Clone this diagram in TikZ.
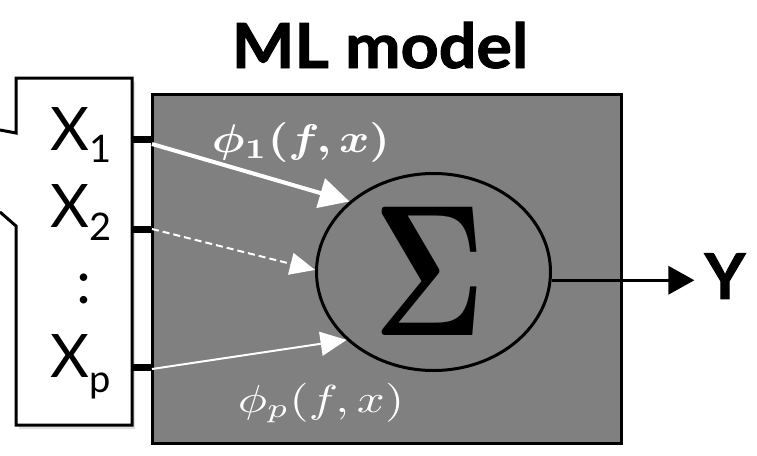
\documentclass[tikz,border=0pt]{standalone}
\usepackage{fontspec}
\usepackage{bm}
\setmainfont{Lato}
\usetikzlibrary{arrows.meta,shapes.geometric}
\begin{document}
\begin{tikzpicture}[x=1pt,y=-1pt,
  modelbox/.style={draw=black,line width=3pt,fill=black!50!white,minimum width=469pt,minimum height=349pt,inner sep=0pt},
  sumnode/.style={ellipse,draw=black,line width=3pt,minimum width=234pt,minimum height=197pt,inner sep=0pt},
  callout/.style={draw=black,line width=3pt,fill=white,line join=miter},
  port/.style={line width=7pt,black},
  wthick/.style={white,line width=4pt,-{Triangle[length=30pt,width=30pt]}},
  wdash/.style={white,line width=2pt,dash pattern=on 7pt off 4pt,-{Triangle[length=25pt,width=22pt]}},
  wthin/.style={white,line width=2pt,-{Triangle[length=26pt,width=24pt]}},
  outarrow/.style={black,line width=3.5pt,-{Triangle[length=26pt,width=28pt]}},
  xlabel/.style={anchor=base west,inner sep=0pt,font=\fontsize{60}{60}\selectfont},
  titlestyle/.style={anchor=base,inner sep=0pt,xscale=1.07,font=\fontsize{62}{62}\selectfont\bfseries\addfontfeatures{FakeBold=1.5}},
  mathlabel/.style={text=white,inner sep=0pt},
]
\useasboundingbox (0,0) rectangle (757,455);
% title
\node[titlestyle] (ttl) at (380,68) {ML model};
% callout shadow and shape
\fill[black,opacity=0.12] (3,134) -- (19,137) -- (19,82) -- (135,82) -- (135,429) -- (19,429) -- (19,230) -- (3,216);
\draw[callout] (0,130) -- (16,133) -- (16,78) -- (132,78) -- (132,425) -- (16,425) -- (16,226) -- (0,212);
% model box
\node[modelbox] (box) at (387,269) {};
% inputs
\node[xlabel] (x1) at (50,150) {X\raisebox{-12pt}{\fontsize{38}{38}\selectfont 1}};
\node[xlabel] (x2) at (50,227) {X\raisebox{-13pt}{\fontsize{38}{38}\selectfont 2}};
\node[anchor=base,inner sep=0pt,font=\fontsize{60}{60}\selectfont] (dots) at (84,303) {:};
\node[xlabel] (xp) at (50,377) {X\raisebox{-15pt}{\fontsize{38}{38}\selectfont p}};
% ports
\coordinate (q1) at (133,139);
\coordinate (q2) at (133,229);
\coordinate (qp) at (133,367);
\draw[port] (q1) -- (q1 -| box.west);
\draw[port] (q2) -- (q2 -| box.west);
\draw[port] (qp) -- (qp -| box.west);
% sum
\node[sumnode] (sum) at (433.5,272) {};
\node[xscale=13.5,yscale=18.7,inner sep=0pt] (sigma) at (430,271) {$\bm{\Sigma}$};
% arrows in
\coordinate (a1) at (152,144);
\coordinate (a2) at (152,229);
\coordinate (ap) at (152,369);
\draw[wthick] (a1) -- (sum.140);
\draw[wdash] (a2) -- (sum.179);
\draw[wthin] (ap) -- (sum.218);
% labels
\node[mathlabel,xscale=4.6,yscale=4] (phione) at (301,142) {$\bm{\phi}_{\bm{1}}\bm{(f,x)}$};
\node[mathlabel,xscale=4.9,yscale=3.9] (phip) at (321,403) {$\phi_p(f,x)$};
% output
\node[anchor=center,inner sep=0pt,font=\fontsize{63}{63}\selectfont\bfseries\addfontfeatures{FakeBold=1.5}] (yout) at (725,276) {Y};
\draw[outarrow,shorten >=10pt] (sum.-4) -- (sum.-4 -| yout.west);
\end{tikzpicture}
\end{document}
